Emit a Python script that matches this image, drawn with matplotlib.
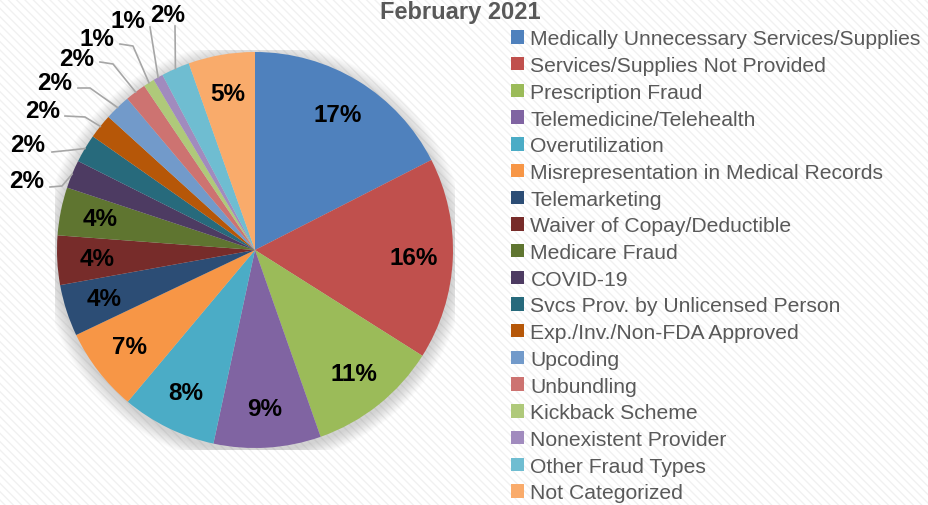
import numpy as np
import matplotlib
matplotlib.use("Agg")
import matplotlib.pyplot as plt
from matplotlib.patches import Rectangle, Circle

plt.rcParams['font.family'] = ['Liberation Sans', 'DejaVu Sans']

title = "February 2021"

categories = [
    "Medically Unnecessary Services/Supplies",
    "Services/Supplies Not Provided",
    "Prescription Fraud",
    "Telemedicine/Telehealth",
    "Overutilization",
    "Misrepresentation in Medical Records",
    "Telemarketing",
    "Waiver of Copay/Deductible",
    "Medicare Fraud",
    "COVID-19",
    "Svcs Prov. by Unlicensed Person",
    "Exp./Inv./Non-FDA Approved",
    "Upcoding",
    "Unbundling",
    "Kickback Scheme",
    "Nonexistent Provider",
    "Other Fraud Types",
    "Not Categorized",
]

# share of cases (%)
shares = [17.4, 16.4, 10.6, 8.7, 7.7, 6.8, 4.2, 4.0, 3.9,
          2.3, 2.3, 2.0, 2.1, 1.7, 0.9, 0.8, 2.3, 5.4]

colors = ["#4F81BD", "#C0504D", "#9BBB59", "#8064A2", "#4BACC6", "#F79646",
          "#2C4D75", "#772C2A", "#5F7530", "#4D3B62", "#276A7C", "#B65708",
          "#729ACA", "#CD7371", "#AFC97A", "#A18BBE", "#6FBDD1", "#F9AB6B"]

# outside labels for the thin slices: text centre, line start, elbow (pixels)
outside = {
    9:  ((27, 181), (50, 188), (62, 187)),
    10: ((28, 146), (52, 153), (72, 151)),
    11: ((43, 111), (65, 117), (85, 118)),
    12: ((55, 83), (78, 89), (90, 89)),
    13: ((77, 60), (100, 63), (113, 65)),
    14: ((97, 40), (120, 45), (133, 47)),
    15: ((128, 21), (150, 28), (150, 28)),
    16: ((168, 16), (175, 27), (175, 27)),
}

W, H = 929, 506
cx, cy, half = 255, 251, 200  # pie centre and half axes size in pixels

fig = plt.figure(figsize=(W / 100, H / 100), dpi=100)
fig.patch.set_facecolor("white")
plt.rcParams['hatch.linewidth'] = 1.0
fig.patches.append(Rectangle((0, 0), 1, 1, transform=fig.transFigure,
                             facecolor="white", edgecolor="#f1f1f1",
                             hatch="\\\\\\\\", linewidth=0, zorder=-10))

ax = fig.add_axes([(cx - half) / W, (H - cy - half) / H, 2 * half / W, 2 * half / H])

R = 0.99

# soft shadow around the pie
for i in range(12):
    ax.add_patch(Circle((0, -0.015), R + 0.006 * (i + 1), color="#808080",
                        alpha=0.03, lw=0, zorder=0))

wedges, _ = ax.pie(shares, colors=colors, startangle=90, counterclock=False,
                   radius=R, wedgeprops=dict(linewidth=0))
for w in wedges:
    w.set_zorder(2)

ax.set_xlim(-1, 1)
ax.set_ylim(-1, 1)
ax.set_aspect("equal")
ax.axis("off")


def px(x, y):
    return (x - cx) / half, (cy - y) / half


total = sum(shares)
for i, (w, v) in enumerate(zip(wedges, shares)):
    label = f"{round(v / total * 100):.0f}%"
    ang = np.deg2rad((w.theta1 + w.theta2) / 2)
    if i in outside:
        (tx, ty), start, elbow = outside[i]
        ex, ey = R * np.cos(ang), R * np.sin(ang)
        pts = [px(*start), px(*elbow), (ex, ey)]
        ax.plot([p[0] for p in pts], [p[1] for p in pts], color="#a6a6a6",
                lw=1.2, zorder=3, clip_on=False)
        ax.text(*px(tx, ty), label, ha="center", va="center", fontsize=17.5,
                fontweight="bold", color="black", zorder=4, clip_on=False)
    else:
        r = 0.8 * R
        ax.text(r * np.cos(ang), r * np.sin(ang), label, ha="center", va="center",
                fontsize=17.5, fontweight="bold", color="black", zorder=4)

fig.text(460 / W, 1 - 13 / H, title, ha="center", va="center", fontsize=17,
         fontweight="bold", color="#595959")

handles = [Rectangle((0, 0), 1, 1, facecolor=c, edgecolor="none") for c in colors]
leg = fig.legend(handles, categories, loc="upper left",
                 bbox_to_anchor=(503 / W, 1 - 22 / H), frameon=False,
                 fontsize=15.2, handlelength=0.6, handleheight=0.6,
                 handletextpad=0.3, labelspacing=0.365, borderaxespad=0)
for t in leg.get_texts():
    t.set_color("#595959")

fig.savefig("out.png", dpi=100)
